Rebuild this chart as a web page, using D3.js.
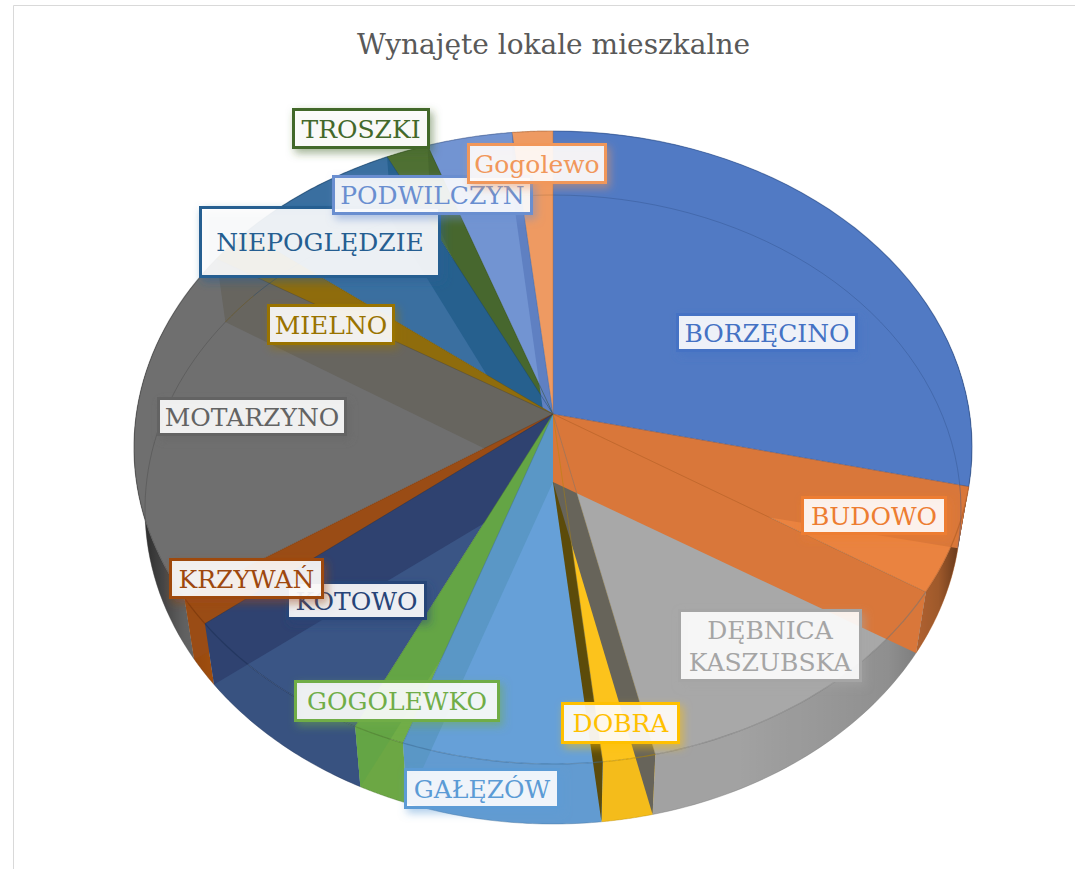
<!DOCTYPE html>
<html><head><meta charset="utf-8">
<script src="https://cdnjs.cloudflare.com/ajax/libs/d3/7.8.5/d3.min.js"></script>
<style>html,body{margin:0;padding:0;background:#fff;overflow:hidden}svg{display:block}</style>
</head><body><svg id="c" width="1075" height="869"></svg>
<script>
const title = "Wynajęte lokale mieszkalne";
const categories = ["BORZĘCINO","BUDOWO","DĘBNICA KASZUBSKA","DOBRA","GAŁĘZÓW","GOGOLEWKO","KOTOWO","KRZYWAŃ","MOTARZYNO","MIELNO","NIEPOGLĘDZIE","TROSZKI","PODWILCZYN","Gogolewo"];
const shares = [26.97,5.58,13.53,2.03,7.72,2.0,7.78,1.5,18.06,1.72,6.64,1.64,3.28,1.56];
const labelColors = ["#4472c4","#ed7d31","#a5a5a5","#ffc000","#5b9bd5","#70ad47","#264478","#9e480e","#636363","#997300","#255e91","#43682b","#698ed0","#f1975a"];
const topColors = ["#517ac4","#ea8340","#a8a8a8","#fcc31c","#66a0d8","#70ad47","#3a5585","#a4500f","#6f6f6f","#8f6c0c","#3a6fa0","#4f7033","#7294d2","#ee9a62"];
const wallColors = ["#517ac4","#d9773a","#67645a","#5c4b0a","#5a97c6","#64a545","#2f4270","#9a4c15","#67655f","#8f6c0c","#26608e","#47672e","#5f80c2","#ee9a62"];
// which angle of each slice carries its visible radial wall (0 = start, 1 = end)
const wallSide = [null,[0,1],[1],[1],[1],[1],[1],[1],[1],[1],[1],[1],[1],null];
const wallOrder = [11,10,12,9,8,7,6,5,4,3,2,1];
const labelBoxes = [[676,313,182,39],[801,496,146,39],[678,609,184,73],[561,702,119,42],[404,768,156,41],[294,680,206,42],[286,581,141,39],[169,558,155,41],[157,397,190,39],[267,304,128,41],[199,206,242,72],[292,108,138,41],[332,175,201,40],[467,143,140,41]];
const labelDrawOrder = [0,1,2,3,4,5,6,7,8,9,10,11,12,13];

const svg = d3.select("#c");
const defs = svg.append("defs");
const grad = defs.append("linearGradient").attr("id","edge").attr("gradientUnits","userSpaceOnUse")
  .attr("x1",134).attr("x2",972).attr("y1",0).attr("y2",0);
[[0,.7],[.03,.4],[.06,.1],[.09,0],[.72,0],[.9,.12],[.96,.3],[1,.7]].forEach(s=>grad.append("stop").attr("offset",s[0]).attr("stop-color","#000").attr("stop-opacity",s[1]));

const ell = {ax:553, tx:553, bx:553, atop:414, abot:482, tcy:447.5, trx:419, try_:316.5, bcy:509.5, brx:408, bry:314.5};
const topPt = a => [ell.tx + ell.trx*Math.sin(a), ell.tcy - ell.try_*Math.cos(a)];
const botPt = a => [ell.bx + ell.brx*Math.sin(a), ell.bcy - ell.bry*Math.cos(a)];
const apexT = [ell.ax, ell.atop], apexB = [ell.ax, ell.abot];
const line = d3.line();
const arcs = d3.pie().sort(null).value(d=>d)(shares);
const samples = (a0,a1,f) => d3.range(0,41).map(i=>f(a0+(a1-a0)*i/40));

svg.append("path").attr("d","M13.5,869V5.5H1075").attr("fill","none").attr("stroke","#d9d9d9").attr("stroke-width",1);

svg.append("text").attr("x",553.5).attr("y",54).attr("text-anchor","middle")
  .attr("font-family","'DejaVu Serif'").attr("font-size",28).attr("fill","#595959").text(title);

const g = svg.append("g");
// outer walls
arcs.forEach((d,i)=>{
  const band = samples(d.startAngle,d.endAngle,topPt).concat(samples(d.startAngle,d.endAngle,botPt).reverse());
  g.append("path").attr("d",line(band)+"Z").attr("fill",topColors[i]);
  g.append("path").attr("d",line(band)+"Z").attr("fill","url(#edge)");
  g.append("path").attr("d",line(band)+"Z").attr("fill","#000").attr("fill-opacity",.03);
});
// top faces
arcs.forEach((d,i)=>{
  const p = [apexT].concat(samples(d.startAngle,d.endAngle,topPt));
  g.append("path").attr("d",line(p)+"Z").attr("fill",topColors[i]);
});
// radial walls
wallOrder.forEach(i=>{
  const d = arcs[i];
  (wallSide[i]||[]).forEach(s=>{
    const a = s ? d.endAngle : d.startAngle;
    g.append("path").attr("d",line([apexT,topPt(a),botPt(a),apexB])+"Z").attr("fill",wallColors[i]);
  });
});
// edges
arcs.forEach((d,i)=>{
  const stroke = d3.color(labelColors[i]).darker(1).formatHex();
  g.append("path").attr("d",line([apexT,topPt(d.endAngle)])).attr("fill","none").attr("stroke",stroke).attr("stroke-opacity",.45).attr("stroke-width",1);
  g.append("path").attr("d",line(samples(d.startAngle,d.endAngle,topPt))).attr("fill","none").attr("stroke",stroke).attr("stroke-opacity",.55).attr("stroke-width",1.2);
  g.append("path").attr("d",line(samples(d.startAngle,d.endAngle,botPt))).attr("fill","none").attr("stroke",stroke).attr("stroke-opacity",.4).attr("stroke-width",1);
});

// labels
labelDrawOrder.forEach(i=>{
  const f = defs.append("filter").attr("id","sh"+i).attr("x","-20%").attr("y","-30%").attr("width","140%").attr("height","170%");
  f.append("feDropShadow").attr("dx",3).attr("dy",4).attr("stdDeviation",4).attr("flood-color",labelColors[i]).attr("flood-opacity",.55);
  const b = labelBoxes[i];
  svg.append("rect").attr("x",b[0]+1.5).attr("y",b[1]+1.5).attr("width",b[2]-3).attr("height",b[3]-3)
    .attr("fill","#fff").attr("fill-opacity",.88).attr("stroke",labelColors[i]).attr("stroke-width",3).attr("filter",`url(#sh${i})`);
  const words = categories[i]==="DĘBNICA KASZUBSKA" ? categories[i].split(" ") : [categories[i]];
  const lh = 32, fs = 25;
  const t = svg.append("text").attr("text-anchor","middle").attr("font-family","'DejaVu Serif'").attr("font-size",fs).attr("fill",labelColors[i]);
  words.forEach((w,k)=>{
    t.append("tspan").attr("x",b[0]+b[2]/2).attr("y",b[1]+b[3]/2+9-(words.length-1)*lh/2+k*lh).text(w);
  });
});
</script></body></html>
